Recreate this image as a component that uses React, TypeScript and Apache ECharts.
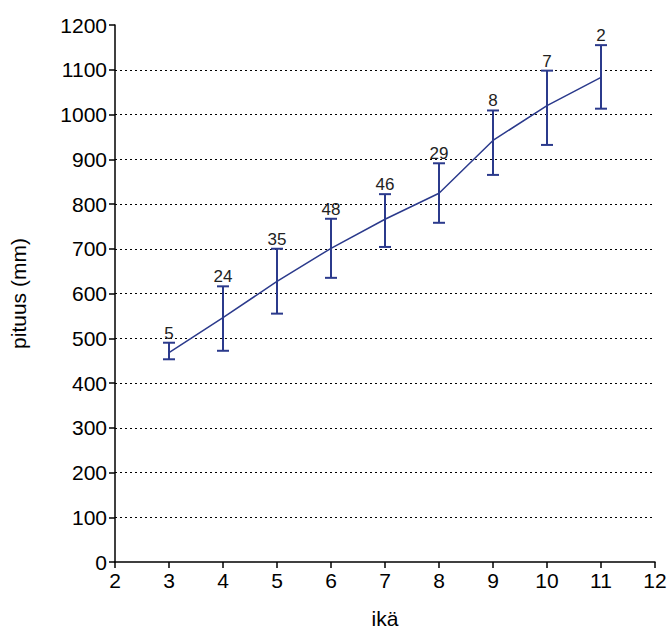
import { useEffect, useRef } from "react";
import * as echarts from "echarts";

const ages = [3, 4, 5, 6, 7, 8, 9, 10, 11];
const means = [468, 546, 627, 701, 766, 824, 942, 1020, 1083];
const lows = [453, 472, 555, 635, 704, 758, 865, 932, 1013];
const highs = [490, 616, 700, 767, 822, 891, 1009, 1098, 1155];
const counts = ["5", "24", "35", "48", "46", "29", "8", "7", "2"];

const navy = "#2b3a8c";
const font = "Liberation Sans, Arial, sans-serif";

const App: React.FC = () => {
  const ref = useRef<HTMLDivElement>(null);

  useEffect(() => {
    if (!ref.current) return;
    const chart = echarts.init(ref.current, null, { renderer: "svg" });
    chart.setOption({
      animation: false,
      grid: { left: 112, right: 15, top: 25, bottom: 70 },
      xAxis: {
        type: "value",
        min: 2,
        max: 12,
        interval: 1,
        name: "ikä",
        nameLocation: "middle",
        nameGap: 46,
        nameTextStyle: { color: "#000", fontSize: 21, fontFamily: font },
        axisLine: { lineStyle: { color: "#000", width: 1.5 } },
        axisTick: { inside: false, length: 6, lineStyle: { color: "#000", width: 1.5 } },
        axisLabel: { color: "#000", fontSize: 21, fontFamily: font, margin: 8 },
        splitLine: { show: false },
      },
      yAxis: {
        type: "value",
        min: 0,
        max: 1200,
        interval: 100,
        name: "pituus (mm)",
        nameLocation: "middle",
        nameGap: 86,
        nameTextStyle: { color: "#000", fontSize: 21, fontFamily: font },
        axisLine: { show: true, lineStyle: { color: "#000", width: 1.5 } },
        axisTick: { show: true, inside: false, length: 6, lineStyle: { color: "#000", width: 1.5 } },
        axisLabel: {
          color: "#000",
          fontSize: 21,
          fontFamily: font,
          margin: 8,
          formatter: (v: number) => String(v),
        },
        splitLine: {
          show: true,
          showMinLine: false,
          showMaxLine: false,
          lineStyle: { color: "#000", type: [2, 3], width: 1.2 },
        },
      },
      series: [
        {
          type: "line",
          data: ages.map((a, i) => [a, means[i]]),
          symbol: "none",
          lineStyle: { color: navy, width: 1.5 },
        },
        {
          type: "custom",
          data: ages.map((a, i) => [a, lows[i], highs[i], counts[i]]),
          renderItem: (params: any, api: any) => {
            const x = api.value(0);
            const lo = api.coord([x, api.value(1)]);
            const hi = api.coord([x, api.value(2)]);
            const w = 6;
            const st = { stroke: navy, lineWidth: 2 };
            return {
              type: "group",
              children: [
                { type: "line", shape: { x1: lo[0], y1: lo[1], x2: hi[0], y2: hi[1] }, style: st },
                { type: "line", shape: { x1: lo[0] - w, y1: lo[1], x2: lo[0] + w, y2: lo[1] }, style: st },
                { type: "line", shape: { x1: hi[0] - w, y1: hi[1], x2: hi[0] + w, y2: hi[1] }, style: st },
                {
                  type: "text",
                  x: hi[0],
                  y: hi[1] - 1,
                  style: {
                    text: String(api.value(3)),
                    fill: "#222",
                    fontSize: 17,
                    fontFamily: font,
                    align: "center",
                    verticalAlign: "bottom",
                  },
                },
              ],
            };
          },
        },
      ],
    });
    return () => chart.dispose();
  }, []);

  return (
    <div
      ref={ref}
      style={{ width: "670px", height: "634px", position: "absolute", left: 0, top: 0 }}
    />
  );
};

export default App;
